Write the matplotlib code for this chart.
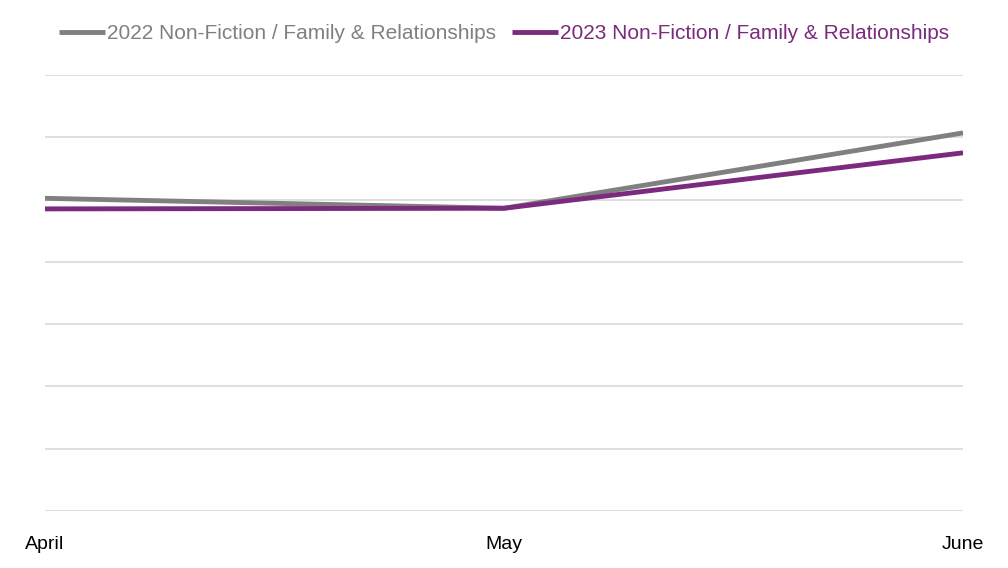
import matplotlib.pyplot as plt

plt.rcParams['font.family'] = ['Liberation Sans Narrow', 'Liberation Sans', 'DejaVu Sans']

months = ['April', 'May', 'June']
sales_2022 = [5.02, 4.86, 6.07]
sales_2023 = [4.85, 4.86, 5.75]

grey = '#808080'
purple = '#7B2A7E'

fig = plt.figure(figsize=(10.08, 5.68), dpi=100)
ax = fig.add_axes([0.0446, 0.1004, 0.9108, 0.7676])

x = range(len(months))
ax.plot(x, sales_2022, color=grey, lw=3.5, solid_capstyle='butt', label='2022 Non-Fiction / Family & Relationships')
ax.plot(x, sales_2023, color=purple, lw=3.5, solid_capstyle='butt', label='2023 Non-Fiction / Family & Relationships')

ax.set_xlim(0, 2)
ax.set_ylim(0, 7)
ax.set_yticks(range(0, 8))
ax.set_yticklabels([])
ax.tick_params(axis='y', length=0)
ax.grid(axis='y', color='#d9d9d9', lw=1.2)
ax.set_axisbelow(True)
for s in ax.spines.values():
    s.set_visible(False)

ax.set_xticks(list(x))
ax.set_xticklabels(months, fontsize=14, color='black')
ax.tick_params(axis='x', length=0, pad=18)

leg = fig.legend(loc='upper center', bbox_to_anchor=(0.5, 0.99), ncol=2, frameon=False,
                 fontsize=15, handlelength=2.2, handletextpad=0.1, columnspacing=0.8)
for txt, c in zip(leg.get_texts(), [grey, purple]):
    txt.set_color(c)

fig.savefig('out.png', dpi=100)
